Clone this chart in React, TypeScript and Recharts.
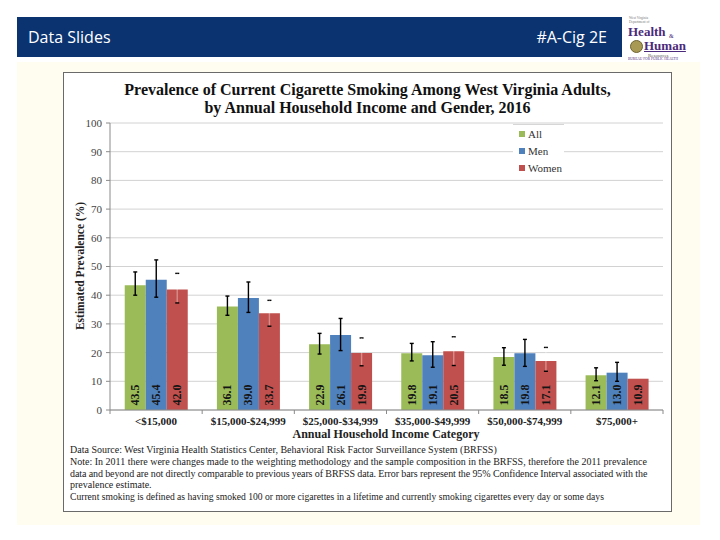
import React from 'react';
import {
  BarChart,
  Bar,
  XAxis,
  YAxis,
  CartesianGrid,
  ErrorBar,
  LabelList,
  Legend,
} from 'recharts';

// ---------- data ----------
const categories = [
  '<$15,000',
  '$15,000-$24,999',
  '$25,000-$34,999',
  '$35,000-$49,999',
  '$50,000-$74,999',
  '$75,000+',
];
const allValues = [43.5, 36.1, 22.9, 19.8, 18.5, 12.1];
const menValues = [45.4, 39.0, 26.1, 19.1, 19.8, 13.0];
const womenValues = [42.0, 33.7, 19.9, 20.5, 17.1, 10.9];

const allLow = [40.0, 33.0, 19.5, 17.1, 15.6, 10.2];
const allHigh = [48.1, 39.7, 26.7, 23.2, 21.7, 14.7];
const menLow = [39.3, 34.0, 20.7, 14.9, 15.2, 10.0];
const menHigh = [52.3, 44.6, 31.9, 23.8, 24.6, 16.6];
const womenLow: (number | null)[] = [37.3, 29.2, 15.4, 15.5, 13.5, null];
const womenHigh: (number | null)[] = [47.6, 38.2, 25.1, 25.5, 21.8, null];

const yTicks = [0, 10, 20, 30, 40, 50, 60, 70, 80, 90, 100];
const seriesNames = ['All', 'Men', 'Women'];

// ---------- styling ----------
const SERIF = '"Liberation Serif", "Times New Roman", serif';
const GREEN = '#9BBB59';
const BLUE = '#4F81BD';
const RED = '#C0504D';
const AXIS = '#8a8a8a';
const COLORS = [GREEN, BLUE, RED];

const CHART_W = 609;
const CHART_H = 365;
const MARGIN = { top: 51, right: 9, left: 0, bottom: 3 };
const Y_W = 47;
const PLOT_W = CHART_W - MARGIN.left - MARGIN.right - Y_W;
const STEP = PLOT_W / categories.length;

const delta = (v: number, lo: number | null, hi: number | null) =>
  lo == null || hi == null ? null : [+(v - lo).toFixed(2), +(hi - v).toFixed(2)];

const rows = categories.map((cat, i) => ({
  cat,
  all: allValues[i],
  men: menValues[i],
  women: womenValues[i],
  allErr: delta(allValues[i], allLow[i], allHigh[i]),
  menErr: delta(menValues[i], menLow[i], menHigh[i]),
  womenErr: delta(womenValues[i], womenLow[i], womenHigh[i]),
}));

function XTick(props: any) {
  const { x, y, payload, index } = props;
  return (
    <g>
      <line x1={x - STEP / 2} x2={x - STEP / 2} y1={y} y2={y + 4} stroke={AXIS} />
      {index === categories.length - 1 && (
        <line x1={x + STEP / 2} x2={x + STEP / 2} y1={y} y2={y + 4} stroke={AXIS} />
      )}
      <text
        x={x}
        y={y + 15}
        textAnchor="middle"
        fontFamily={SERIF}
        fontSize={11}
        fontWeight="bold"
        fill="#222"
      >
        {payload.value}
      </text>
    </g>
  );
}

function BarValue(props: any) {
  const vb = props.viewBox && props.viewBox.width != null ? props.viewBox : props;
  const { x, y, width, height } = vb;
  const cx = x + width / 2;
  const cy = y + height - 15;
  return (
    <text
      x={cx}
      y={cy}
      transform={`rotate(-90 ${cx} ${cy})`}
      textAnchor="middle"
      dominantBaseline="central"
      fontFamily={SERIF}
      fontSize={12}
      fontWeight="bold"
      fill="#151515"
    >
      {Number(props.value).toFixed(1)}
    </text>
  );
}

function LegendBox() {
  return (
    <div
      style={{
        background: '#fff',
        borderTop: '1px solid #d6d6d6',
        width: 51,
        height: 54,
        boxSizing: 'border-box',
      }}
    >
      {seriesNames.map((n, i) => (
        <div
          key={n}
          style={{
            display: 'flex',
            alignItems: 'center',
            height: 17,
            fontFamily: SERIF,
            fontSize: 11,
            color: '#333',
          }}
        >
          <span
            style={{
              display: 'inline-block',
              width: 6,
              height: 6,
              background: COLORS[i],
              marginLeft: 6,
              marginRight: 3,
            }}
          />
          {n}
        </div>
      ))}
    </div>
  );
}

export default function App() {
  return (
    <div style={{ position: 'relative', width: 720, height: 540, background: '#fff', overflow: 'hidden' }}>
      <style>{`body{margin:0}
g[stroke="#010101"] > line:nth-of-type(2), line[stroke="#010101"]:nth-of-type(2){stroke:rgba(255,255,255,0.35)}`}</style>

      {/* header bar */}
      <div
        style={{
          position: 'absolute',
          left: 17,
          top: 17,
          width: 605,
          height: 40,
          background: '#0b3370',
          color: '#fff',
          fontFamily: '"Open Sans", sans-serif',
          fontSize: 16,
          display: 'flex',
          alignItems: 'center',
          justifyContent: 'space-between',
          padding: '0 15px 0 11px',
          boxSizing: 'border-box',
        }}
      >
        <span>Data Slides</span>
        <span>#A-Cig 2E</span>
      </div>

      {/* logo */}
      <div style={{ position: 'absolute', left: 627, top: 16, width: 75, height: 46, fontFamily: SERIF }}>
        <div style={{ position: 'absolute', left: 2, top: 1, fontSize: 3.5, lineHeight: '3.5px', color: '#777', whiteSpace: 'nowrap' }}>
          West Virginia
          <br />
          Department of
        </div>
        <div style={{ position: 'absolute', left: 1, top: 9, fontSize: 13, fontWeight: 'bold', color: '#4b2a7b', lineHeight: '13px' }}>
          Health
        </div>
        <div style={{ position: 'absolute', left: 42, top: 17, fontSize: 6, lineHeight: '6px', color: '#4b2a7b' }}>&amp;</div>
        <div
          style={{
            position: 'absolute',
            left: 3,
            top: 24,
            width: 11,
            height: 11,
            borderRadius: '50%',
            background: '#a89a55',
            border: '1px solid #6e6330',
          }}
        />
        <div
          style={{
            position: 'absolute',
            left: 17,
            top: 24,
            fontSize: 13,
            fontWeight: 'bold',
            color: '#4b2a7b',
            lineHeight: '12px',
            textDecoration: 'underline',
          }}
        >
          Human
        </div>
        <div style={{ position: 'absolute', left: 21, top: 37, fontSize: 5, color: '#555', lineHeight: '5px' }}>
          Resources
        </div>
        <div style={{ position: 'absolute', left: 1, top: 42, fontSize: 3.5, color: '#4b2a7b', lineHeight: '3.5px', whiteSpace: 'nowrap' }}>
          BUREAU FOR PUBLIC HEALTH
        </div>
      </div>

      {/* yellow panel */}
      <div style={{ position: 'absolute', left: 17, top: 62, width: 683, height: 463, background: '#fffdef' }} />

      {/* chart box */}
      <div
        style={{
          position: 'absolute',
          left: 63,
          top: 72,
          width: 609,
          height: 440,
          background: '#fff',
          border: '1px solid #6a6a6a',
          boxSizing: 'border-box',
        }}
      />

      {/* title */}
      <div
        style={{
          position: 'absolute',
          left: 63,
          top: 81,
          width: 609,
          textAlign: 'center',
          fontFamily: SERIF,
          fontWeight: 'bold',
          fontSize: 16,
          lineHeight: '18px',
          color: '#111',
        }}
      >
        Prevalence of Current Cigarette Smoking Among West Virginia Adults,
        <br />
        by Annual Household Income and Gender, 2016
      </div>

      {/* chart */}
      <div style={{ position: 'absolute', left: 63, top: 72 }}>
        <BarChart
          width={CHART_W}
          height={CHART_H}
          data={rows}
          margin={MARGIN}
          barCategoryGap="16%"
          barGap={0}
        >
          <CartesianGrid vertical={false} stroke="#d2d2d2" />
          <XAxis
            dataKey="cat"
            height={24}
            interval={0}
            tickSize={0}
            tickMargin={0}
            tickLine={false}
            axisLine={{ stroke: AXIS }}
            tick={(p: any) => <XTick {...p} />}
          />
          <YAxis
            width={Y_W}
            domain={[0, 100]}
            ticks={yTicks}
            interval={0}
            tickSize={4}
            tickMargin={4}
            axisLine={{ stroke: AXIS }}
            tickLine={{ stroke: AXIS }}
            tick={{ fontFamily: SERIF, fontSize: 11, fill: '#444' }}
          />
          <Legend
            layout="vertical"
            align="center"
            verticalAlign="middle"
            wrapperStyle={{ position: 'absolute', left: 450, top: 52, width: 51, height: 54 }}
            content={() => <LegendBox />}
          />
          <Bar dataKey="all" name="All" fill={GREEN} isAnimationActive={false}>
            <ErrorBar dataKey="allErr" width={2} stroke="#000" strokeWidth={1.4} direction="y" isAnimationActive={false} />
            <LabelList dataKey="all" content={(p: any) => <BarValue {...p} />} />
          </Bar>
          <Bar dataKey="men" name="Men" fill={BLUE} isAnimationActive={false}>
            <ErrorBar dataKey="menErr" width={2} stroke="#000" strokeWidth={1.4} direction="y" isAnimationActive={false} />
            <LabelList dataKey="men" content={(p: any) => <BarValue {...p} />} />
          </Bar>
          <Bar dataKey="women" name="Women" fill={RED} isAnimationActive={false}>
            <ErrorBar dataKey="womenErr" width={2} stroke="#010101" strokeWidth={1.4} direction="y" isAnimationActive={false} />
            <LabelList dataKey="women" content={(p: any) => <BarValue {...p} />} />
          </Bar>
        </BarChart>
      </div>

      {/* y-axis title */}
      <div
        style={{
          position: 'absolute',
          left: 80,
          top: 266,
          transform: 'translate(-50%, -50%) rotate(-90deg)',
          whiteSpace: 'nowrap',
          fontFamily: SERIF,
          fontWeight: 'bold',
          fontSize: 11.5,
          color: '#222',
        }}
      >
        Estimated Prevalence (%)
      </div>

      {/* x-axis title */}
      <div
        style={{
          position: 'absolute',
          left: 386,
          top: 434,
          transform: 'translate(-50%, -50%)',
          whiteSpace: 'nowrap',
          fontFamily: SERIF,
          fontWeight: 'bold',
          fontSize: 12,
          color: '#222',
        }}
      >
        Annual Household Income Category
      </div>

      {/* footnotes */}
      <div
        style={{
          position: 'absolute',
          left: 70,
          top: 444,
          fontFamily: SERIF,
          fontSize: 10,
          lineHeight: '11.8px',
          color: '#222',
          whiteSpace: 'nowrap',
        }}
      >
        <div>Data Source: West Virginia Health Statistics Center, Behavioral Risk Factor Surveillance System (BRFSS)</div>
        <div>
          Note: In 2011 there were changes made to the weighting methodology and the sample composition in the BRFSS, therefore the 2011 prevalence
        </div>
        <div style={{ letterSpacing: -0.1 }}>
          data and beyond are not directly comparable to previous years of BRFSS data. Error bars represent the 95% Confidence Interval associated with the
        </div>
        <div>prevalence estimate.</div>
        <div style={{ fontSize: 9.6 }}>
          Current smoking is defined as having smoked 100 or more cigarettes in a lifetime and currently smoking cigarettes every day or some days
        </div>
      </div>
    </div>
  );
}
